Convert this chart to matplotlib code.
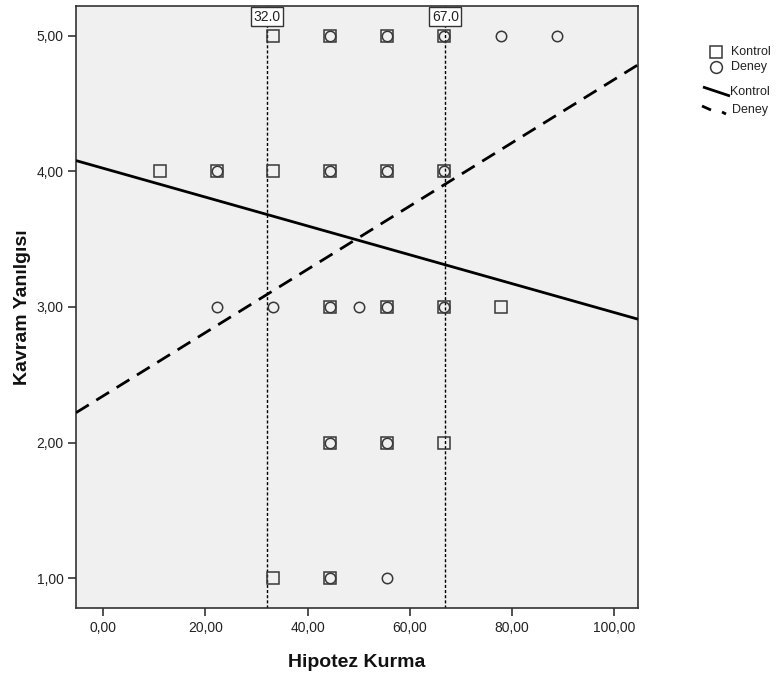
import matplotlib
matplotlib.use("Agg")
import matplotlib.pyplot as plt
from matplotlib.ticker import FuncFormatter

plt.rcParams["font.family"] = ["Liberation Sans", "DejaVu Sans"]

# data (x = ninths of 100)
kontrol_x = [33.3, 44.4, 55.6, 66.7,
             11.1, 22.2, 33.3, 44.4, 55.6, 66.7,
             44.4, 55.6, 66.7, 77.8,
             44.4, 55.6, 66.7,
             33.3, 44.4]
kontrol_y = [5, 5, 5, 5,
             4, 4, 4, 4, 4, 4,
             3, 3, 3, 3,
             2, 2, 2,
             1, 1]

deney_x = [44.4, 55.6, 66.7, 77.8, 88.9,
           22.2, 44.4, 55.6, 66.7,
           22.2, 33.3, 44.4, 50.0, 55.6, 66.7,
           44.4, 55.6,
           44.4, 55.6]
deney_y = [5, 5, 5, 5, 5,
           4, 4, 4, 4,
           3, 3, 3, 3, 3, 3,
           2, 2,
           1, 1]

# fit lines (intercept, slope) as drawn
kontrol_fit = (4.023, -0.01063)
deney_fit = (2.345, 0.02332)

ref_lines = [32.0, 67.0]

xticks = [0, 20, 40, 60, 80, 100]
yticks = [1, 2, 3, 4, 5]
xlim = (-5.35, 104.7)
ylim = (0.78, 5.22)

W, H = 779, 677
fig = plt.figure(figsize=(W / 100, H / 100), dpi=100)
fig.patch.set_facecolor("white")

ax = fig.add_axes([76 / W, (H - 608) / H, (638 - 76) / W, (608 - 6) / H])
ax.set_facecolor("#f0f0f0")
ax.set_xlim(*xlim)
ax.set_ylim(*ylim)

edge = "#383838"

# reference lines
for xr in ref_lines:
    ax.axvline(xr, color="black", lw=1, ls=(0, (2.2, 1.5)), zorder=2)
    ax.text(xr, 0.982, f"{xr:.1f}", transform=ax.get_xaxis_transform(),
            ha="center", va="center", fontsize=10, color="#222222",
            bbox=dict(boxstyle="square,pad=0.18", facecolor="white",
                      edgecolor="#333333", lw=1), zorder=6)

# fit lines
xs = list(xlim)
ax.plot(xs, [kontrol_fit[0] + kontrol_fit[1] * v for v in xs],
        color="black", lw=2, zorder=3, solid_capstyle="butt")
ax.plot(xs, [deney_fit[0] + deney_fit[1] * v for v in xs],
        color="black", lw=2, ls=(0, (5.4, 3.2)), zorder=3)

# points
ax.plot(kontrol_x, kontrol_y, ls="none", marker="s", ms=8, mfc="none",
        mec=edge, mew=1.1, zorder=4)
ax.plot(deney_x, deney_y, ls="none", marker="o", ms=7.5, mfc="none",
        mec=edge, mew=1.1, zorder=4)

# axes styling
for s in ax.spines.values():
    s.set_color("#333333")
    s.set_linewidth(1.2)
ax.set_xticks(xticks)
ax.set_yticks(yticks)
fmt = FuncFormatter(lambda v, p: f"{v:.2f}".replace(".", ","))
ax.xaxis.set_major_formatter(fmt)
ax.yaxis.set_major_formatter(fmt)
ax.tick_params(direction="out", length=6, width=1.2, color="#333333",
               labelcolor="#222222", pad=3, labelsize=10)

ax.set_xlabel("Hipotez Kurma", fontsize=14, fontweight="bold", color="#111111",
              va="center")
ax.set_ylabel("Kavram Yanılgısı", fontsize=14, fontweight="bold", color="#111111",
              va="center")
ax.xaxis.set_label_coords(0.5, -0.09)
ax.yaxis.set_label_coords(-0.096, 0.5)

# legend drawn in pixel coordinates
lax = fig.add_axes([695 / W, (H - 120) / H, 84 / W, 90 / H])
lax.set_xlim(695, 779)
lax.set_ylim(120, 30)
lax.axis("off")
lax.plot([716], [52], marker="s", ms=8.5, mfc="none", mec=edge, mew=1.1)
lax.plot([716], [67], marker="o", ms=8.5, mfc="none", mec=edge, mew=1.1)
lax.plot([703, 730], [87, 96], color="black", lw=2, solid_capstyle="butt")
lax.plot([702, 711], [106, 110], color="black", lw=2, solid_capstyle="butt")
lax.plot([722, 726], [112, 114], color="black", lw=2, solid_capstyle="butt")
lkw = dict(fontsize=9, color="#222222", va="center", ha="left")
lax.text(731, 52, "Kontrol", **lkw)
lax.text(731, 67, "Deney", **lkw)
lax.text(730, 92, "Kontrol", **lkw)
lax.text(732, 110, "Deney", **lkw)

fig.savefig("out.png", dpi=100)
